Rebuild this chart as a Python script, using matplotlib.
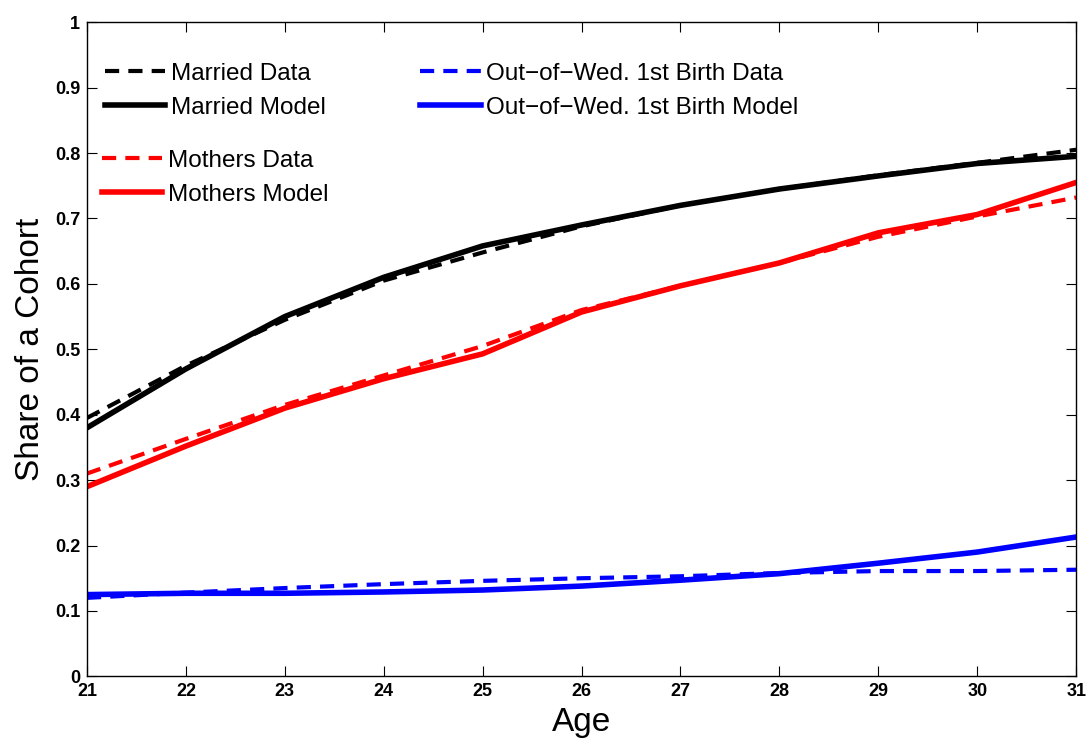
import numpy as np
import matplotlib
matplotlib.use("Agg")
import matplotlib.pyplot as plt

plt.rcParams['font.family'] = ['Liberation Sans', 'DejaVu Sans']

# Ages and cohort shares
age = [21, 22, 23, 24, 25, 26, 27, 28, 29, 30, 31]

married_data = [0.395, 0.475, 0.545, 0.605, 0.648, 0.688, 0.720, 0.745, 0.766, 0.785, 0.805]
married_model = [0.380, 0.470, 0.550, 0.610, 0.658, 0.690, 0.720, 0.745, 0.765, 0.784, 0.795]

mothers_data = [0.310, 0.363, 0.415, 0.460, 0.505, 0.560, 0.597, 0.632, 0.672, 0.703, 0.732]
mothers_model = [0.290, 0.352, 0.410, 0.455, 0.493, 0.557, 0.597, 0.632, 0.678, 0.706, 0.755]

oow_data = [0.120, 0.128, 0.135, 0.141, 0.146, 0.150, 0.153, 0.158, 0.161, 0.161, 0.163]
oow_model = [0.125, 0.127, 0.127, 0.129, 0.132, 0.138, 0.147, 0.157, 0.173, 0.190, 0.213]

fig = plt.figure(figsize=(10.87, 7.40), dpi=100)
ax = fig.add_axes([0.080, 0.086, 0.910, 0.884])

lw_model = 4.0
lw_data = 3.0
dash = (0, (3.4, 2.2))

l1, = ax.plot(age, married_data, color='black', lw=lw_data, linestyle=dash)
l2, = ax.plot(age, married_model, color='black', lw=lw_model)
l3, = ax.plot(age, mothers_data, color='red', lw=lw_data, linestyle=dash)
l4, = ax.plot(age, mothers_model, color='red', lw=lw_model)
l5, = ax.plot(age, oow_data, color='blue', lw=lw_data, linestyle=dash)
l6, = ax.plot(age, oow_model, color='blue', lw=lw_model)

ax.set_xlim(21, 31)
ax.set_ylim(0, 1)
ax.set_xticks(age)
ax.set_yticks(np.arange(0, 1.01, 0.1))
ax.set_yticklabels(['0', '0.1', '0.2', '0.3', '0.4', '0.5', '0.6', '0.7', '0.8', '0.9', '1'])
ax.tick_params(direction='in', top=True, right=True, length=7, width=0.8,
               labelsize=13)
ax.tick_params(axis='x', pad=5)
ax.tick_params(axis='y', pad=5)
for lab in ax.get_xticklabels() + ax.get_yticklabels():
    lab.set_fontweight('bold')
for sp in ax.spines.values():
    sp.set_linewidth(1.0)

ax.set_xlabel('Age', fontsize=24, labelpad=5)
ax.set_ylabel('Share of a Cohort', fontsize=24, labelpad=6)

leg_kw = dict(frameon=False, fontsize=17.5, handlelength=2.5, handletextpad=0.22,
              labelspacing=0.5, borderaxespad=0.0, loc='upper left')
leg1 = ax.legend([l1, l2], ['Married Data', 'Married Model'],
                 bbox_to_anchor=(0.008, 0.953), **leg_kw)
leg2 = ax.legend([l3, l4], ['Mothers Data', 'Mothers Model'],
                 bbox_to_anchor=(0.005, 0.820), **leg_kw)
leg3 = ax.legend([l5, l6], ['Out\u2212of\u2212Wed. 1st Birth Data',
                            'Out\u2212of\u2212Wed. 1st Birth Model'],
                 bbox_to_anchor=(0.327, 0.953), **leg_kw)
ax.add_artist(leg1)
ax.add_artist(leg2)

fig.savefig('out.png', dpi=100)
